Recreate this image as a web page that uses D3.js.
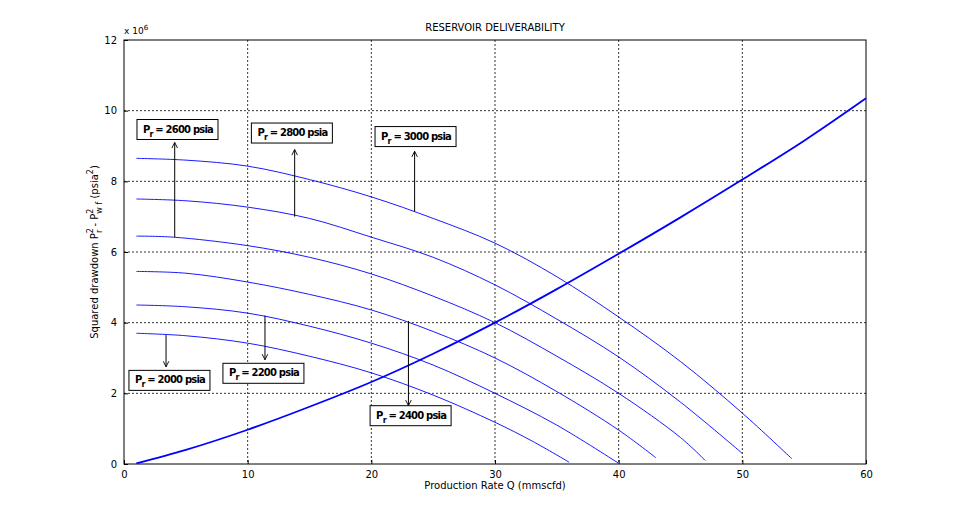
<!DOCTYPE html>
<html><head><meta charset="utf-8">
<script src="https://cdn.jsdelivr.net/npm/d3@7"></script>
<style>
body{margin:0;background:#fff;font-family:"DejaVu Sans",sans-serif;}
text{fill:#000;}
</style></head>
<body><div id="chart"></div>
<script>
// IPR curves, x = Q (mmscfd), y = squared drawdown (x 10^6 psia^2)
var ipr2000 = [[1,3.7],[5,3.63],[10,3.42],[15,3.05],[20,2.58],[25,1.95],[30,1.18],[33,0.65],[36,0.05]];
var ipr2200 = [[1,4.5],[5,4.45],[10,4.27],[15,3.9],[20,3.42],[25,2.8],[30,2.0],[35,1.1],[40,0.02]];
var ipr2400 = [[1,5.45],[5,5.4],[10,5.15],[15,4.8],[20,4.36],[25,3.75],[30,3.0],[35,2.05],[40,0.96],[43,0.18]];
var ipr2600 = [[1,6.45],[4,6.42],[10,6.18],[15,5.85],[20,5.38],[25,4.75],[30,4.0],[35,3.05],[40,2.0],[45,0.75],[47,0.1]];
var ipr2800 = [[1,7.5],[5,7.45],[10,7.27],[15,6.95],[20,6.42],[25,5.85],[30,5.07],[35,4.1],[40,3.03],[45,1.75],[50,0.3]];
var ipr3000 = [[1,8.65],[5,8.6],[10,8.43],[15,8.05],[20,7.56],[25,6.95],[30,6.25],[35,5.3],[40,4.16],[45,2.9],[50,1.44],[54,0.15]];
var deliverability = [[1,0.02],[5,0.4],[10,0.97],[15,1.62],[20,2.32],[25,3.12],[30,4.0],[35,4.95],[40,5.95],[45,6.98],[50,8.05],[55,9.15],[60,10.35]];

// annotations: label, arrow x, arrow from y, arrow to y, box left x, box top y
var labels = ['2000','2200','2400','2600','2800','3000'];
var arrowX = [3.4, 11.4, 23, 4.1, 13.8, 23.5];
var arrowFrom = [3.65, 4.2, 4.05, 6.42, 7.0, 7.15];
var arrowTo = [2.75, 2.95, 1.65, 9.1, 8.9, 8.85];
var boxX = [0.4, 8.0, 19.9, 1.05, 10.3, 20.3];
var boxY = [2.65, 2.85, 1.65, 9.75, 9.65, 9.55];

var xTicks = [0,10,20,30,40,50,60];
var yTicks = [0,2,4,6,8,10,12];

var W = 957, H = 523;
var margin = {top: 40, right: 91, bottom: 59, left: 124};
var width = W - margin.left - margin.right,
	height = H - margin.top - margin.bottom;

var svg = d3.select('#chart').append('svg').attr('width', W).attr('height', H);
var defs = svg.append('defs');
defs.append('marker').attr('id','arr').attr('viewBox','0 0 10 10')
	.attr('refX',9).attr('refY',5).attr('markerWidth',7).attr('markerHeight',7)
	.attr('orient','auto')
	.append('path').attr('d','M1,1 L9,5 L1,9').attr('fill','none').attr('stroke','#000').attr('stroke-width',1.3);

var g = svg.append('g').attr('transform', `translate(${margin.left},${margin.top})`);

var x = d3.scaleLinear().domain([0,60]).range([0,width]);
var y = d3.scaleLinear().domain([0,12]).range([height,0]);

// grid
g.append('g').selectAll('line').data(xTicks.slice(1,-1)).enter().append('line')
	.attr('x1', d => x(d)).attr('x2', d => x(d)).attr('y1',0).attr('y2',height)
	.attr('stroke','#000').attr('stroke-dasharray','2,2').attr('stroke-width',0.8);
g.append('g').selectAll('line').data(yTicks.slice(1,-1)).enter().append('line')
	.attr('y1', d => y(d)).attr('y2', d => y(d)).attr('x1',0).attr('x2',width)
	.attr('stroke','#000').attr('stroke-dasharray','2,2').attr('stroke-width',0.8);

// axes
var xAxis = g.append('g').attr('transform',`translate(0,${height})`)
	.call(d3.axisBottom(x).tickValues(xTicks).tickSize(-4).tickPadding(7));
var yAxis = g.append('g')
	.call(d3.axisLeft(y).tickValues(yTicks).tickSize(-4).tickPadding(7));
[xAxis, yAxis].forEach(a => {
	a.selectAll('text').attr('font-size', 10).attr('font-family','"DejaVu Sans",sans-serif');
	a.select('.domain').remove();
});
g.append('rect').attr('width',width).attr('height',height).attr('fill','none').attr('stroke','#000');

// curves
var line = d3.line().x(d => x(d[0])).y(d => y(d[1])).curve(d3.curveCatmullRom);
[ipr2000, ipr2200, ipr2400, ipr2600, ipr2800, ipr3000].forEach(c => {
	g.append('path').datum(c).attr('d', line).attr('fill','none').attr('stroke','#0000ff').attr('stroke-width',0.9);
});
g.append('path').datum(deliverability).attr('d', line).attr('fill','none').attr('stroke','#0000ff').attr('stroke-width',1.8);

// annotations
labels.forEach((lab, i) => {
	g.append('line').attr('x1', x(arrowX[i])).attr('x2', x(arrowX[i]))
		.attr('y1', y(arrowFrom[i])).attr('y2', y(arrowTo[i]))
		.attr('stroke','#000').attr('stroke-width',1).attr('marker-end','url(#arr)');
	var bx = x(boxX[i]), by = y(boxY[i]);
	g.append('rect').attr('x', bx).attr('y', by).attr('width', 81).attr('height', 20)
		.attr('fill','#fff').attr('stroke','#000');
	var t = g.append('text').attr('x', bx + 6).attr('y', by + 13)
		.attr('font-size', 10).attr('font-weight','bold').attr('letter-spacing','-0.8');
	t.append('tspan').text('P');
	t.append('tspan').attr('dy', 4).attr('font-size', 8).text('r');
	t.append('tspan').attr('dy', -4).text(' = ' + lab + ' psia');
});

// titles
svg.append('text').attr('x', margin.left + width/2).attr('y', 31).attr('text-anchor','middle')
	.attr('font-size', 10).text('RESERVOIR DELIVERABILITY');
svg.append('text').attr('x', margin.left + width/2).attr('y', 489).attr('text-anchor','middle')
	.attr('font-size', 10).text('Production Rate Q  (mmscfd)');
var sc = svg.append('text').attr('x', 124).attr('y', 34).attr('font-size', 9);
sc.append('tspan').text('x 10');
sc.append('tspan').attr('dy', -4).attr('font-size', 7).text('6');

var yl = svg.append('text').attr('transform', `translate(98,${margin.top + height/2}) rotate(-90)`)
	.attr('text-anchor','middle').attr('font-size', 10);
yl.append('tspan').text('Squared drawdown P');
yl.append('tspan').attr('dy', -5).attr('font-size', 8).text('2');
yl.append('tspan').attr('dx', -5).attr('dy', 9).attr('font-size', 8).text('r');
yl.append('tspan').attr('dy', -4).text(' - P');
yl.append('tspan').attr('dy', -5).attr('font-size', 8).text('2');
yl.append('tspan').attr('dx', -5).attr('dy', 9).attr('font-size', 8).text('w f');
yl.append('tspan').attr('dy', -4).text('  (psia');
yl.append('tspan').attr('dy', -5).attr('font-size', 8).text('2');
yl.append('tspan').attr('dy', 5).text(')');
</script></body></html>
